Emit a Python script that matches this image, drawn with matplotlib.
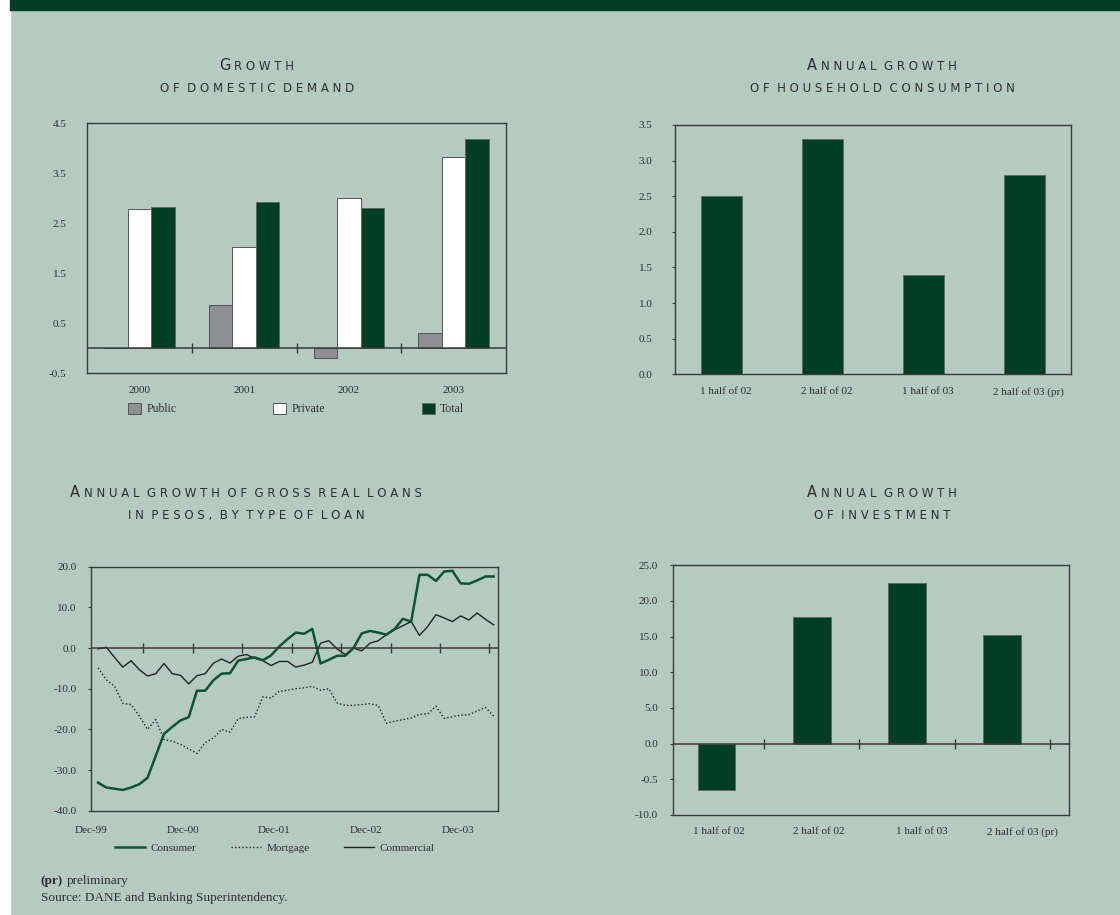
'''
Four panel chart: domestic demand, household consumption, loans and investment.
'''

import matplotlib
matplotlib.use('Agg')
import matplotlib.pyplot as plt
import numpy as np
from matplotlib.lines import Line2D
from matplotlib.patches import Rectangle

# Colours taken from the page
BG = '#b5cbc2'
DARK = '#003f26'
LINE_GREEN = '#0b5535'
GREY = '#8e9093'
TXT = '#2e2e2e'
SERIF = 'Liberation Serif'

# --- growth of domestic demand ---
years = ['2000', '2001', '2002', '2003']
public = [0.0, 0.86, -0.2, 0.31]
private = [2.79, 2.02, 3.01, 3.83]
total = [2.83, 2.93, 2.81, 4.18]
demand_ticks = [-0.5, 0.5, 1.5, 2.5, 3.5, 4.5]

# --- household consumption and investment ---
halves = ['1 half of 02', '2 half of 02', '1 half of 03', '2 half of 03 (pr)']
consumption = [2.5, 3.3, 1.4, 2.8]
consumption_ticks = [0.0, 0.5, 1.0, 1.5, 2.0, 2.5, 3.0, 3.5]
investment = [-6.5, 17.7, 22.5, 15.2]
investment_ticks = [-10, -5, 0, 5, 10, 15, 20, 25]
investment_ticklabels = ['-10.0', '-0.5', '0.0', '5.0', '10.0', '15.0', '20.0', '25.0']

# --- loans, monthly Dec-99 .. Dec-03 ---
month_labels = ['Dec-99', 'Dec-00', 'Dec-01', 'Dec-02', 'Dec-03']
consumer = [-33.1, -34.3, -34.6, -34.9, -34.3, -33.5, -31.9, -26.5, -21.1, -19.4,
            -17.8, -17.0, -10.5, -10.5, -7.9, -6.3, -6.2, -3.1, -2.7, -2.3,
            -3.0, -1.8, 0.4, 2.2, 3.8, 3.5, 4.7, -3.8, -2.9, -1.9,
            -1.9, 0.0, 3.6, 4.2, 3.8, 3.3, 4.7, 7.2, 6.5, 18.0,
            18.0, 16.5, 18.8, 19.0, 15.9, 15.8, 16.6, 17.6, 17.6]
mortgage = [-4.9, -7.8, -9.4, -13.6, -13.9, -16.7, -20.0, -17.6, -22.5, -22.9,
            -23.7, -24.8, -25.9, -23.3, -22.1, -20.0, -20.7, -17.4, -17.0, -16.9,
            -12.0, -12.3, -10.6, -10.4, -10.0, -9.8, -9.4, -10.4, -10.0, -13.5,
            -14.1, -14.1, -13.9, -13.7, -14.1, -18.5, -18.0, -17.6, -17.2, -16.3,
            -16.2, -14.3, -17.3, -16.9, -16.5, -16.4, -15.5, -14.6, -16.7]
commercial = [-0.2, 0.2, -2.3, -4.7, -3.1, -5.3, -6.9, -6.3, -3.8, -6.3,
              -6.7, -8.8, -6.8, -6.3, -3.7, -2.7, -3.7, -2.0, -1.6, -2.5,
              -3.1, -4.3, -3.3, -3.3, -4.7, -4.2, -3.5, 1.2, 1.8, -0.2,
              -1.6, 0.0, -0.7, 1.2, 1.8, 3.3, 4.5, 5.5, 6.5, 3.1,
              5.3, 8.2, 7.4, 6.5, 7.9, 6.9, 8.6, 7.1, 5.7]
loan_ticks = [-40, -30, -20, -10, 0, 10, 20]

W, H = 1120, 915


def axes_at(fig, left, top, right, bottom):
    '''Add axes using pixel edges measured from the top left corner.'''
    ax = fig.add_axes([left / W, 1 - bottom / H, (right - left) / W, (bottom - top) / H])
    ax.set_facecolor('none')
    for s in ax.spines.values():
        s.set_color('#3a3a3a')
        s.set_linewidth(1.0)
    ax.tick_params(labelsize=8, labelcolor=TXT, color='#3a3a3a')
    for lab in ax.get_xticklabels() + ax.get_yticklabels():
        lab.set_family(SERIF)
    return ax


def set_serif(ax):
    for lab in ax.get_xticklabels() + ax.get_yticklabels():
        lab.set_family(SERIF)


def zero_line(ax, marks):
    '''Horizontal zero line with small category separators crossing it.'''
    ax.axhline(0, color='#3a3a3a', lw=1.1, zorder=3)
    ax.plot(marks, np.zeros(len(marks)), ls='none', marker='|', ms=7,
            mew=1.0, color='#3a3a3a', zorder=3, clip_on=False)


def caps_title(fig, xc, y_base, text, small=8.5, big=10.5):
    '''Spaced small caps title, centred on xc, baseline at y_base (pixels).'''
    r = fig.canvas.get_renderer()
    words = text.split()
    spaced = '  '.join(' '.join(w.upper()) for w in words)
    y = 1 - y_base / H
    kw = dict(family='DejaVu Sans', color=TXT, va='baseline', ha='left')
    if text[0].isupper():
        head, tail = spaced[0], spaced[2:]
        gap = 3.5
    else:
        head, tail = '', spaced
        gap = 0
    t2 = fig.text(0, y, tail, fontsize=small, **kw)
    w2 = t2.get_window_extent(r).width
    if head:
        t1 = fig.text(0, y, head, fontsize=big, **kw)
        w1 = t1.get_window_extent(r).width
    else:
        t1, w1 = None, 0
    x0 = xc - (w1 + gap + w2) / 2
    if t1 is not None:
        t1.set_x(x0 / W)
    t2.set_x((x0 + w1 + gap) / W)


fig = plt.figure(figsize=(W / 100, H / 100), dpi=100, facecolor=BG)
fig.patches.append(Rectangle((0, 0), 10 / W, 1, transform=fig.transFigure,
                             color='white', zorder=0))
fig.patches.append(Rectangle((10 / W, 1 - 10 / H), 1, 10 / H, transform=fig.transFigure,
                             color=DARK, zorder=0))

# ---------------- top left: domestic demand ----------------
ax1 = axes_at(fig, 87.3, 123.3, 505.7, 373.3)
x = np.arange(len(years))
w = 0.224
b1 = ax1.bar(x - w, public, w, color=GREY, edgecolor='#555555', lw=0.7, zorder=2)
b2 = ax1.bar(x, private, w, color='white', edgecolor='#555555', lw=0.7, zorder=2)
b3 = ax1.bar(x + w, total, w, color=DARK, edgecolor='#666666', lw=0.7, zorder=2)
ax1.set_xlim(-0.5, len(years) - 0.5)
ax1.set_ylim(-0.5, 4.5)
ax1.set_yticks(demand_ticks, [f'{v:.1f}' for v in demand_ticks])
ax1.set_xticks(x, years)
ax1.tick_params(axis='both', length=0)
ax1.tick_params(axis='y', pad=15)
ax1.tick_params(axis='x', pad=9)
set_serif(ax1)
zero_line(ax1, x[:-1] + 0.5)
ax1.legend([b1, b2, b3], ['Public', 'Private', 'Total'], loc='center',
           bbox_to_anchor=(0.499, -0.143), ncol=3, frameon=False,
           prop={'family': SERIF, 'size': 8.5}, labelcolor=TXT,
           handlelength=1.1, handleheight=1.1, handletextpad=0.42,
           columnspacing=8.2, borderpad=0)

# ---------------- top right: household consumption ----------------
ax2 = axes_at(fig, 675.3, 125, 1070.7, 374.3)
x = np.arange(len(halves))
ax2.bar(x, consumption, 0.41, color=DARK, edgecolor='#666666', lw=0.7, zorder=2)
ax2.set_xlim(-0.455, len(halves) - 0.545)
ax2.set_ylim(0, 3.5)
ax2.set_yticks(consumption_ticks, [f'{v:.1f}' for v in consumption_ticks])
ax2.set_xticks(x + 0.04, halves)
ax2.tick_params(axis='x', length=0, pad=9)
ax2.tick_params(axis='y', length=2.5, pad=14)
set_serif(ax2)

# ---------------- bottom left: loans ----------------
ax3 = axes_at(fig, 91, 566.7, 497.7, 810.7)
m = np.arange(len(consumer))
ax3.plot(m, mortgage, color='#222222', lw=1.0, ls=(0, (1, 1.6)), zorder=2)
ax3.plot(m, commercial, color='#222222', lw=1.0, zorder=2)
ax3.plot(m, consumer, color=LINE_GREEN, lw=1.8, zorder=3)
ax3.set_xlim(-0.5, len(consumer) - 0.5)
ax3.set_ylim(-40, 20)
ax3.set_yticks(loan_ticks, [f'{v:.1f}' for v in loan_ticks])
ax3.set_xticks([-0.86, 10.35, 21.4, 32.5, 43.7], month_labels)
ax3.tick_params(axis='x', length=0, pad=11)
ax3.tick_params(axis='y', length=2.5, pad=8)
set_serif(ax3)
zero_line(ax3, np.arange(6, len(consumer), 6) - 0.5)
handles = [Line2D([], [], color=LINE_GREEN, lw=1.8),
           Line2D([], [], color='#222222', lw=1.0, ls=(0, (1, 1.6))),
           Line2D([], [], color='#222222', lw=1.0)]
ax3.legend(handles, ['Consumer', 'Mortgage', 'Commercial'], loc='center',
           bbox_to_anchor=(0.452, -0.153), ncol=3, frameon=False,
           prop={'family': SERIF, 'size': 8}, labelcolor=TXT,
           handlelength=2.7, handletextpad=0.48, columnspacing=3.1, borderpad=0)

# ---------------- bottom right: investment ----------------
ax4 = axes_at(fig, 672.7, 565.3, 1069, 815)
x = np.arange(len(halves))
ax4.bar(x, investment, 0.396, color=DARK, edgecolor='#666666', lw=0.7, zorder=2)
ax4.set_xlim(-0.46, 3.70)
ax4.set_ylim(-10, 25)
ax4.set_yticks(investment_ticks, investment_ticklabels)
ax4.set_xticks([0.02, 1.07, 2.16, 3.21], halves)
ax4.tick_params(axis='x', length=0, pad=9)
ax4.tick_params(axis='y', length=2.5, pad=8)
set_serif(ax4)
zero_line(ax4, x + 0.5)

# ---------------- titles ----------------
caps_title(fig, 257, 70, 'Growth')
caps_title(fig, 257, 92, 'of domestic demand')
caps_title(fig, 882, 70, 'Annual growth')
caps_title(fig, 882, 92, 'of household consumption')
caps_title(fig, 246, 497, 'Annual growth of gross real loans')
caps_title(fig, 246, 519, 'in pesos, by type of loan')
caps_title(fig, 882, 497, 'Annual growth')
caps_title(fig, 882, 519, 'of investment')

# ---------------- footnote ----------------
r = fig.canvas.get_renderer()
t = fig.text(40.7 / W, 1 - 884 / H, '(pr)', family=SERIF, weight='bold',
             fontsize=9.5, color=TXT, va='baseline')
tw = t.get_window_extent(r).width
fig.text((40.7 + tw + 4) / W, 1 - 884 / H, 'preliminary', family=SERIF,
         fontsize=9.5, color=TXT, va='baseline')
fig.text(40.7 / W, 1 - 900.5 / H, 'Source: DANE and Banking Superintendency.',
         family=SERIF, fontsize=9.5, color=TXT, va='baseline')

fig.savefig('out.png', dpi=100, facecolor=BG)
